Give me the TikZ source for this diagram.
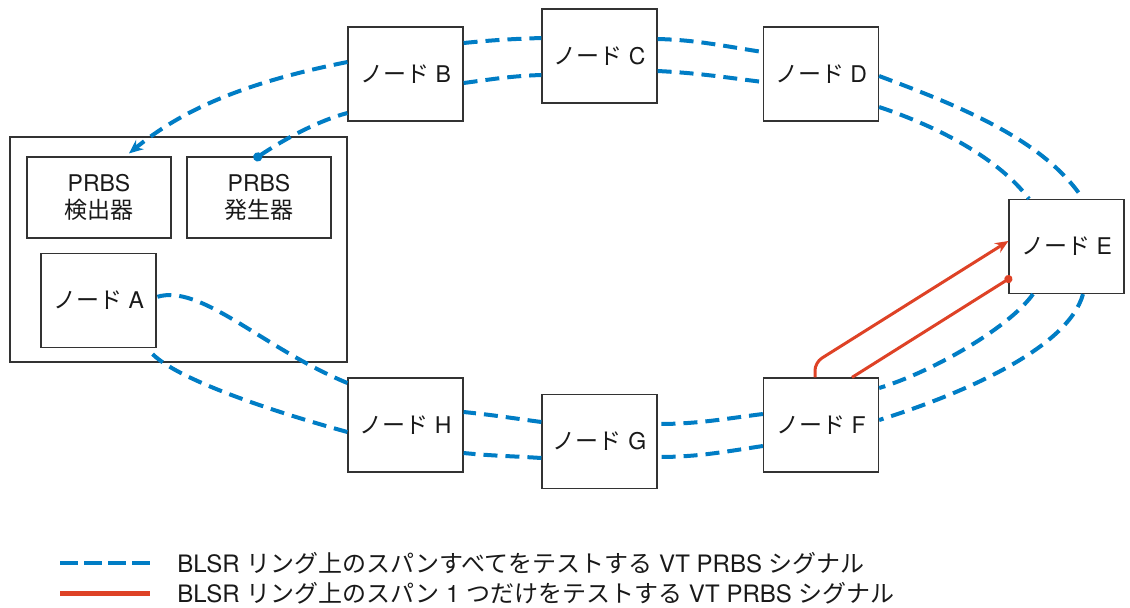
\documentclass[tikz,border=0pt]{standalone}
\usepackage{fontspec}
\setmainfont{TeX Gyre Heros}
\newfontfamily\jp{Noto Sans CJK JP}
\usetikzlibrary{arrows.meta,calc}
\definecolor{ringblauw}{RGB}{0,125,197}
\definecolor{spanrood}{RGB}{222,66,38}
\tikzset{
  knoop/.style={draw=black!80, line width=0.6pt, fill=white, text=black!90, inner sep=0pt,
    minimum width=57.5pt, minimum height=47pt, font=\fontsize{11.5}{13.5}\selectfont},
  prbs/.style={knoop, minimum width=72pt, minimum height=40.5pt, align=center},
  ring/.style={draw=ringblauw, line width=2pt, dash pattern=on 7pt off 4pt},
  span/.style={draw=spanrood, line width=1.5pt},
  uitleg/.style={anchor=west, inner sep=0pt, text=black!90, font=\fontsize{12}{14}\selectfont},
}
\begin{document}
\begin{tikzpicture}[x=0.5pt, y=-0.5pt]
                \useasboundingbox (0,0) rectangle (1130,607);

                % Knooppunten
                \node[knoop, minimum width=168.5pt, minimum height=112.5pt] (site) at (178.5,249.5) {};
                \node[prbs] (det) at (99,197.5) {PRBS\\{\jp 検出器}};
                \node[prbs] (gen) at (259,197.5) {PRBS\\{\jp 発生器}};
                \node[knoop] (A) at (98.5,300.5) {{\jp ノード} A};
                \node[knoop] (B) at (405.5,74) {{\jp ノード} B};
                \node[knoop] (C) at (599.5,56) {{\jp ノード} C};
                \node[knoop] (D) at (821,74) {{\jp ノード} D};
                \node[knoop] (E) at (1066.5,246.5) {{\jp ノード} E};
                \node[knoop] (F) at (821,425) {{\jp ノード} F};
                \node[knoop] (G) at (599.5,441.5) {{\jp ノード} G};
                \node[knoop] (H) at (405.5,425) {{\jp ノード} H};

                % Buitenste ring
                \draw[ring, -{Stealth[length=7pt,width=6pt]}] ($(B.west)+(0,-12)$) .. controls +(-100,20) and +(55,-45) .. ($(det.north)+(30,-3)$);
                \draw[ring] ($(B.east)+(0,-31)$) .. controls +(30,-3) and +(-30,1) .. ($(C.west)+(0,-18)$);
                \draw[ring] ($(C.east)+(0,-17)$) .. controls +(40,1) and +(-40,-6) .. ($(D.west)+(0,-22)$);
                \draw[ring] ($(D.east)+(0,2)$) .. controls +(80,30) and +(-40,-60) .. ($(E.north)+(16.5,0)$);
                \draw[ring] ($(E.south)+(16.5,0)$) .. controls +(-15,55) and +(80,-25) .. ($(F.east)+(0,-5)$);
                \draw[ring] ($(F.west)+(0,21)$) .. controls +(-40,6) and +(40,0) .. ($(G.east)+(0,15.5)$);
                \draw[ring] ($(G.west)+(0,16.5)$) .. controls +(-30,-2) and +(30,3) .. ($(H.east)+(0,28)$);
                \draw[ring] ($(H.west)+(0,7)$) .. controls +(-80,-22) and +(25,25) .. ($(A.south east)+(-4,6)$);

                % Binnenste ring
                \draw[ring, {Circle[length=4.5pt]}-] ($(gen.north)+(-5,3)$) .. controls +(30,-20) and +(-30,8) .. ($(B.west)+(0,39)$);
                \draw[ring] ($(B.east)+(0,9)$) .. controls +(30,-4) and +(-30,1) .. ($(C.west)+(0,19)$);
                \draw[ring] ($(C.east)+(0,15)$) .. controls +(40,2) and +(-40,-5) .. ($(D.west)+(0,8)$);
                \draw[ring] ($(D.east)+(0,33)$) .. controls +(60,20) and +(-30,-40) .. ($(E.north)+(-37.5,0)$);
                \draw[ring] ($(E.south)+(-33.5,0)$) .. controls +(-25,35) and +(50,-15) .. ($(F.east)+(0,-37)$);
                \draw[ring] ($(F.west)+(0,-11)$) .. controls +(-40,5) and +(40,0) .. ($(G.east)+(0,-17.5)$);
                \draw[ring] ($(G.west)+(0,-19.5)$) .. controls +(-30,-4) and +(30,3) .. ($(H.east)+(0,-13)$);
                \draw[ring] ($(H.west)+(0,-42)$) .. controls +(-85,-35) and +(44,-14) .. ($(A.east)+(0,-3.5)$);

                % Span F-E
                \draw[span, rounded corners=4pt, -{Stealth[length=6.5pt,width=5.5pt]}] ($(F.north)+(-6,0)$) -- ++(0,-15) -- ($(E.west)+(0,-5.5)$);
                \draw[span, {Circle[length=4pt]}-] ($(E.west)+(3.4,30.4)$) -- ($(F.north)+(31,0)$);

                % Legenda
                \coordinate (L1a) at (60,563);
                \coordinate (L1b) at (150,563);
                \coordinate (L2a) at (60,593);
                \coordinate (L2b) at (150,593);
                \draw[ring, dash pattern=on 9pt off 3pt] (L1a) -- (L1b);
                \draw[span, line width=2.5pt] (L2a) -- (L2b);
                \node[uitleg] (L1) at (177,563) {BLSR {\jp リング上のスパンすべてをテストする} VT PRBS {\jp シグナル}};
                \node[uitleg] (L2) at (177,593) {BLSR {\jp リング上のスパン} 1 {\jp つだけをテストする} VT PRBS {\jp シグナル}};
\end{tikzpicture}
\end{document}
